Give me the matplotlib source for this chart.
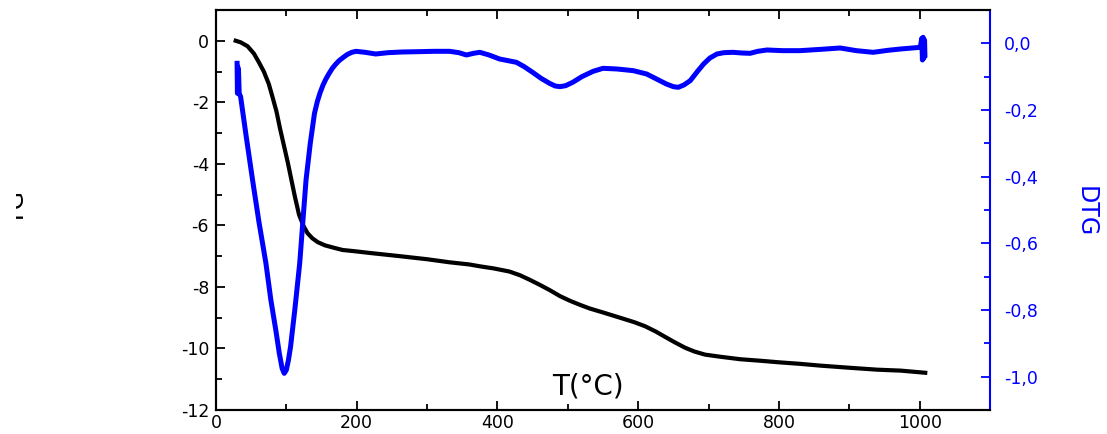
import matplotlib.pyplot as plt
from matplotlib.ticker import MultipleLocator, FixedLocator, FixedFormatter
from matplotlib.transforms import Bbox, TransformedBbox

plt.rcParams["font.family"] = "DejaVu Sans"
plt.rcParams["axes.unicode_minus"] = False

# TG curve (mass loss) vs temperature
tg_temp = [28, 35, 45, 54, 61, 68, 75, 80, 86, 91, 97, 102, 107, 112, 118, 124,
           130, 137, 145, 155, 168, 180, 197, 220, 261, 300, 332, 360, 375, 395,
           417, 432, 446, 460, 474, 489, 503, 517, 531, 550, 574, 595, 610, 625,
           638, 652, 667, 680, 695, 717, 745, 774, 800, 830, 860, 902, 940, 973,
           1008]
tg_mass = [0.0, -0.05, -0.18, -0.42, -0.7, -1.0, -1.4, -1.8, -2.3, -2.85, -3.45,
           -3.95, -4.5, -5.05, -5.65, -6.0, -6.25, -6.42, -6.55, -6.65, -6.73,
           -6.8, -6.84, -6.9, -7.0, -7.1, -7.2, -7.27, -7.33, -7.4, -7.5, -7.62,
           -7.77, -7.93, -8.1, -8.3, -8.45, -8.58, -8.7, -8.83, -9.0, -9.15,
           -9.28, -9.45, -9.62, -9.8, -9.98, -10.1, -10.2, -10.27, -10.35, -10.4,
           -10.45, -10.5, -10.56, -10.63, -10.69, -10.72, -10.79]

# DTG curve (derivative) vs temperature
dtg_temp = [30, 30.5, 31, 31.5, 32, 33, 35, 43, 52, 61, 71, 78, 85, 90, 94, 97,
            100, 103, 106, 112, 119, 124, 128, 134, 140, 144, 148, 152, 156, 160,
            165, 170, 175, 181, 187, 193, 199, 212, 227, 245, 265, 289, 310, 332,
            345, 356, 366, 375, 388, 403, 415, 427, 438, 450, 462, 474, 482, 489,
            497, 507, 520, 536, 550, 570, 593, 612, 627, 640, 650, 657, 665, 674,
            684, 693, 702, 712, 722, 735, 747, 759, 770, 783, 805, 830, 860, 887,
            910, 934, 955, 973, 990, 1001, 1003, 1004, 1005, 1006, 1007, 1007.5]
dtg_rate = [-0.06, -0.15, -0.07, -0.14, -0.08, -0.15, -0.16, -0.28, -0.41, -0.535,
            -0.66, -0.77, -0.86, -0.93, -0.975, -0.99, -0.98, -0.95, -0.91, -0.80,
            -0.66, -0.52, -0.41, -0.30, -0.21, -0.175, -0.148, -0.126, -0.108,
            -0.093, -0.076, -0.063, -0.052, -0.042, -0.033, -0.027, -0.024,
            -0.027, -0.032, -0.028, -0.026, -0.025, -0.024, -0.024, -0.028,
            -0.035, -0.03, -0.027, -0.035, -0.047, -0.052, -0.057, -0.07, -0.087,
            -0.105, -0.12, -0.128, -0.13, -0.127, -0.117, -0.1, -0.084, -0.075,
            -0.077, -0.082, -0.092, -0.108, -0.122, -0.13, -0.132, -0.125, -0.112,
            -0.085, -0.062, -0.044, -0.032, -0.028, -0.027, -0.029, -0.030,
            -0.024, -0.020, -0.022, -0.022, -0.018, -0.014, -0.022, -0.027,
            -0.021, -0.017, -0.014, -0.012, 0.015, -0.05, 0.018, -0.045, 0.01,
            -0.035]

tg_ticks = [0, -2, -4, -6, -8, -10, -12]
dtg_ticks = [0.0, -0.2, -0.4, -0.6, -0.8, -1.0]
dtg_labels = ["0,0", "-0,2", "-0,4", "-0,6", "-0,8", "-1,0"]

BLUE = "#0000ff"

fig = plt.figure(figsize=(11.07, 4.34), dpi=100)
ax = fig.add_axes([0.1951, 0.0553, 0.6992, 0.9217])
ax2 = ax.twinx()

ax.plot(tg_temp, tg_mass, color="black", lw=3.0, solid_joinstyle="round")
ax2.plot(dtg_temp, dtg_rate, color=BLUE, lw=3.6, solid_joinstyle="round")

ax.set_xlim(0, 1100)
ax.set_ylim(-12, 1)
ax2.set_ylim(-1.1, 0.1)

ax.xaxis.set_major_locator(MultipleLocator(200))
ax.xaxis.set_minor_locator(MultipleLocator(100))
ax.set_yticks(tg_ticks)
ax.yaxis.set_minor_locator(MultipleLocator(1))

ax2.yaxis.set_major_locator(FixedLocator(dtg_ticks))
ax2.yaxis.set_major_formatter(FixedFormatter(dtg_labels))
ax2.yaxis.set_minor_locator(MultipleLocator(0.1))

ax.tick_params(which="both", direction="in", top=True, right=False,
               width=1.3, labelsize=12.5)
ax.tick_params(which="major", length=6.5)
ax.tick_params(which="minor", length=4)
ax.tick_params(axis="y", pad=5)
ax.tick_params(axis="x", pad=3)

ax2.tick_params(which="both", direction="in", colors=BLUE, width=1.3,
                labelsize=12.5, pad=10)
ax2.tick_params(which="major", length=6.5)
ax2.tick_params(which="minor", length=4)

for name in ["left", "bottom", "top"]:
    ax.spines[name].set_linewidth(1.5)
    ax2.spines[name].set_linewidth(1.5)
ax.spines["right"].set_visible(False)
ax2.spines["right"].set_color(BLUE)
ax2.spines["right"].set_linewidth(1.5)

ax.text(528, -11.5, "T(°C)", fontsize=20, ha="center", va="baseline")

fig.text(1086 / 1107, 1 - 212 / 434, "DTG", color=BLUE, fontsize=17,
         rotation=-90, ha="center", va="center")

# left label sits partly outside the visible area
tg_label = fig.text(29 / 1107, 1 - 207 / 434, "TG", fontsize=17,
                    rotation=90, ha="right", va="center")
tg_label.set_clip_on(True)
tg_label.set_clip_box(TransformedBbox(Bbox([[16 / 1107, 0], [1, 1]]),
                                      fig.transFigure))

fig.savefig("out.png", dpi=100)
